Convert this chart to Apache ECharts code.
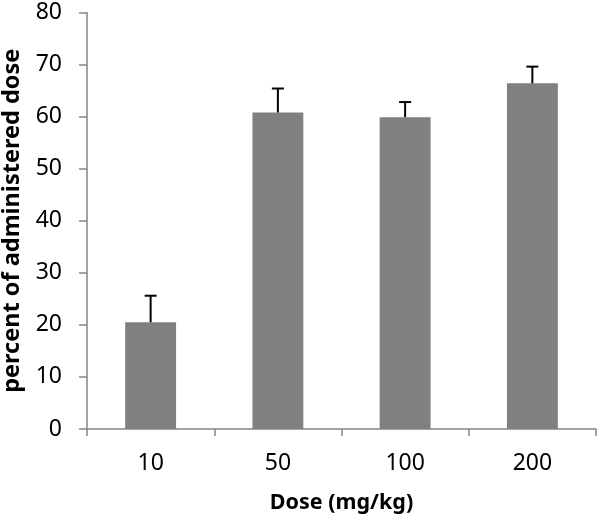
<!DOCTYPE html>
<html><head><meta charset="utf-8">
<script src="https://cdn.jsdelivr.net/npm/echarts@6/dist/echarts.min.js"></script>
<style>html,body{margin:0;padding:0;background:#fff}#c{width:600px;height:518px}</style>
</head><body><div id="c"></div>
<script>
const categories = ['10', '50', '100', '200'];
const values = [20.5, 60.8, 59.9, 66.4];
const errorTops = [25.6, 65.4, 62.8, 69.6];
const yTicks = [0, 10, 20, 30, 40, 50, 60, 70, 80];

const chart = echarts.init(document.getElementById('c'));
const font = '"Noto Sans", "Open Sans", sans-serif';
chart.setOption({
  animation: false,
  grid: { left: 87, right: 4, top: 12.5, bottom: 89, containLabel: false, outerBoundsMode: 'none' },
  xAxis: {
    type: 'category', data: categories,
    name: 'Dose (mg/kg)', nameLocation: 'middle', nameGap: 63,
    nameTextStyle: { fontFamily: font, fontSize: 21.5, fontWeight: 'bold', color: '#000' },
    axisLine: { lineStyle: { color: '#868686', width: 1.5 } },
    axisTick: { show: true, length: 7, lineStyle: { color: '#868686', width: 1.5 } },
    axisLabel: { fontFamily: font, fontSize: 23, color: '#000', margin: 23 }
  },
  yAxis: {
    type: 'value', min: yTicks[0], max: yTicks[yTicks.length - 1], interval: 10,
    name: 'percent of administered dose', nameLocation: 'middle', nameGap: 59,
    nameTextStyle: { fontFamily: font, fontSize: 23.5, fontWeight: 'bold', color: '#000' },
    axisLine: { show: true, lineStyle: { color: '#868686', width: 1.5 } },
    axisTick: { show: true, length: 8, lineStyle: { color: '#868686', width: 1.5 } },
    axisLabel: { fontFamily: font, fontSize: 23, color: '#000', margin: 25 },
    splitLine: { show: false }
  },
  series: [
    {
      type: 'bar', data: values, barWidth: '40%',
      itemStyle: { color: '#808080' }, z: 2
    },
    {
      type: 'custom', z: 3,
      data: categories.map((c, i) => [i, values[i], errorTops[i]]),
      renderItem: function (params, api) {
        const x = api.value(0);
        const base = api.coord([x, api.value(1)]);
        const top = api.coord([x, api.value(2)]);
        const hw = 6;
        return {
          type: 'group',
          children: [
            { type: 'line', shape: { x1: base[0], y1: base[1], x2: top[0], y2: top[1] }, style: { stroke: '#000', lineWidth: 2 } },
            { type: 'line', shape: { x1: top[0] - hw, y1: top[1], x2: top[0] + hw, y2: top[1] }, style: { stroke: '#000', lineWidth: 2 } }
          ]
        };
      }
    }
  ]
});
</script></body></html>
